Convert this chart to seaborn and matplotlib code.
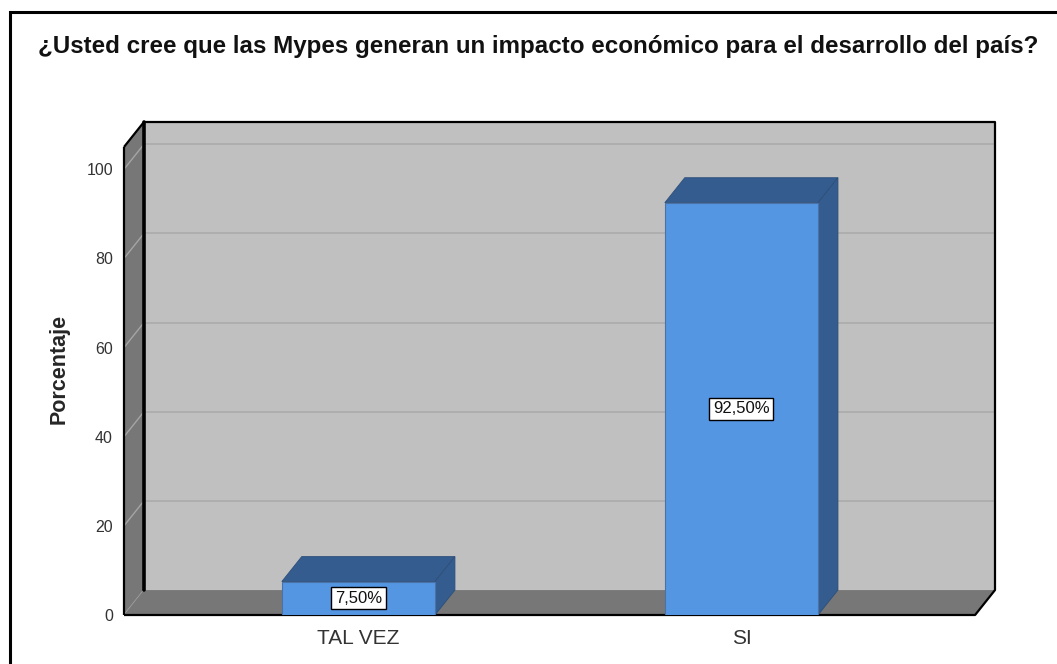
import matplotlib
matplotlib.use("Agg")
import matplotlib.pyplot as plt
from matplotlib.patches import Polygon, Rectangle
import seaborn as sns

# ---- data ----
categories = ["TAL VEZ", "SI"]
values = [7.5, 92.5]
value_labels = ["7,50%", "92,50%"]
yticks = [0, 20, 40, 60, 80, 100]
title = "¿Usted cree que las Mypes generan un impacto económico para el desarrollo del país?"
ylabel = "Porcentaje"

# ---- style ----
sns.set_style("white")
plt.rcParams["font.family"] = ["Liberation Sans", "DejaVu Sans"]

FRONT = "#5596E3"
DARKBLUE = "#345C8F"
WALL = "#C0C0C0"
FLOOR = "#777777"
GRID = "#ABABAB"

W = 1057
H = 664
fig = plt.figure(figsize=(W / 100, H / 100), dpi=100)

ax = fig.add_axes([124 / W, (H - 615) / H, 871 / W, 493 / H])

# 3D geometry (depth offset in data units)
X0, X1 = -0.612, 1.61
DX, DY = 0.052, 5.6
YTOP = 105
BW = 0.4

ax.set_xlim(X0, X1 + DX)
ax.set_ylim(0, YTOP + DY)

# back wall
ax.add_patch(Rectangle((X0 + DX, DY), X1 - X0, YTOP, facecolor=WALL,
                       edgecolor="none", zorder=0))
# left side wall
ax.add_patch(Polygon([(X0, 0), (X0 + DX, DY), (X0 + DX, YTOP + DY), (X0, YTOP)],
                     closed=True, facecolor=FLOOR, edgecolor="none", zorder=0))
# gridlines
for v in yticks[1:]:
    ax.plot([X0 + DX, X1 + DX], [v + DY, v + DY], color=GRID, lw=1.2, zorder=1)
for v in yticks:
    ax.plot([X0, X0 + DX], [v, v + DY], color="#A5A5A5", lw=1.0, zorder=1)
# floor
ax.add_patch(Polygon([(X0, 0), (X1, 0), (X1 + DX, DY), (X0 + DX, DY)],
                     closed=True, facecolor=FLOOR, edgecolor="none", zorder=2))
# outlines
k = dict(color="black", lw=1.6, zorder=3, solid_capstyle="butt", clip_on=False)
ax.plot([X0 + DX, X0 + DX], [DY, YTOP + DY], color="black", lw=2.6, zorder=3, clip_on=False)
ax.plot([X0, X0], [0, YTOP], **k)
ax.plot([X0, X0 + DX, X1 + DX, X1 + DX, X1, X0],
        [YTOP, YTOP + DY, YTOP + DY, DY, 0, 0], **k)

# bars: front faces via seaborn
sns.barplot(x=categories, y=values, color=FRONT, width=BW, saturation=1,
            edgecolor="#4A72A6", linewidth=0.8, ax=ax, zorder=6)

# 3D top and side faces + labels
for i, (v, lab) in enumerate(zip(values, value_labels)):
    l, r = i - BW / 2, i + BW / 2
    ax.add_patch(Polygon([(l, v), (r, v), (r + DX, v + DY), (l + DX, v + DY)],
                         closed=True, facecolor=DARKBLUE, edgecolor="#2E4F7A",
                         lw=0.6, zorder=5))
    ax.add_patch(Polygon([(r, 0), (r + DX, DY), (r + DX, v + DY), (r, v)],
                         closed=True, facecolor=DARKBLUE, edgecolor="#2E4F7A",
                         lw=0.6, zorder=5))
    ax.text(i, v / 2, lab, ha="center", va="center", fontsize=12,
            color="#111111", zorder=8,
            bbox=dict(boxstyle="square,pad=0.22", facecolor="white",
                      edgecolor="black", lw=1.0))

ax.set_xlim(X0, X1 + DX)
ax.set_ylim(0, YTOP + DY)
ax.set_yticks(yticks)
ax.set_yticklabels([str(t) for t in yticks])
ax.tick_params(axis="y", length=0, pad=8, labelsize=11.5, labelcolor="#333333")
ax.tick_params(axis="x", length=0, pad=10, labelsize=15, labelcolor="#333333")
ax.set_xlabel("")
ax.set_ylabel(ylabel, fontsize=15.5, fontweight="bold", labelpad=12)
for s in ax.spines.values():
    s.set_visible(False)
ax.patch.set_alpha(0)
ax.grid(False)

fig.text(38 / W, 1 - 47 / H, title, ha="left", va="center",
         fontsize=17.4, fontweight="bold", color="#111111")

# figure frame
fig.patches.append(Rectangle((9.5 / W, -0.1), 1.2, 1.1 - 12 / H, transform=fig.transFigure,
                             facecolor="none", edgecolor="black", lw=2.2))

fig.savefig("out.png", dpi=100)
